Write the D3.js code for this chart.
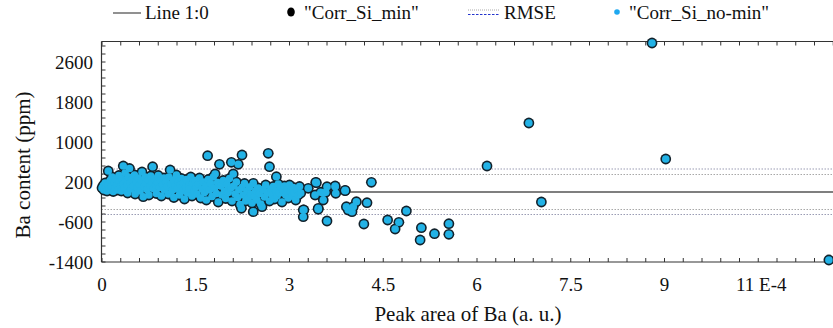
<!DOCTYPE html>
<html>
<head>
<meta charset="utf-8">
<script src="https://cdn.jsdelivr.net/npm/d3@7"></script>
<style>
  html, body { margin: 0; padding: 0; background: #fff; }
  svg { display: block; }
</style>
</head>
<body>
<div id="chart"></div>
<script>
// ---- data (peak area in units of 1E-4, Ba content in ppm) ----
const peakArea = [
  0.0,0.02,0.03,0.05,0.06,0.08,0.1,0.1,0.12,0.13,0.15,0.16,0.18,0.2,0.21,0.22,0.24,0.25,0.27,0.28,0.3,0.31,0.32,0.34,0.34,0.36,0.37,0.38,0.4,0.41,0.42,0.44,0.45,0.46,0.48,0.5,
  0.52,0.53,0.55,0.56,0.58,0.6,0.61,0.63,0.64,0.66,0.67,0.69,0.7,0.72,0.74,0.75,0.77,0.78,0.8,0.81,0.82,0.84,0.86,0.87,0.89,0.9,0.92,0.94,0.95,0.97,0.99,
  1.0,1.02,1.04,1.06,1.07,1.09,1.1,1.12,1.14,1.15,1.17,1.19,1.2,1.22,1.24,1.25,1.27,1.29,1.3,1.32,1.34,1.35,1.37,1.39,1.4,1.42,1.44,1.45,1.47,1.49,
  1.5,1.52,1.54,1.56,1.58,1.6,1.62,1.64,1.66,1.67,1.69,1.7,1.72,1.74,1.76,1.78,1.8,1.81,1.83,1.85,1.86,1.88,1.9,1.92,1.94,1.96,1.98,2.0,2.02,2.04,2.06,2.07,2.08,2.1,2.11,2.13,2.15,2.17,2.18,2.19,
  2.21,2.23,2.24,2.24,2.26,2.28,2.3,2.32,2.34,2.36,2.38,2.4,2.42,2.42,2.44,2.46,2.48,2.5,2.52,2.54,2.56,2.58,2.6,2.62,2.64,2.66,2.68,2.68,2.7,2.72,2.74,2.76,2.78,2.79,2.8,2.82,2.84,2.86,2.88,2.9,2.92,2.94,2.96,2.98,3.0,3.02,3.04,3.06,3.08,3.1,3.12,3.14,3.16,3.18,
  3.22,3.22,3.23,3.3,3.41,3.42,3.43,3.46,3.46,3.5,3.54,3.54,3.58,3.6,3.6,3.73,3.73,3.74,3.89,3.89,3.91,3.94,4.0,4.02,4.07,4.19,4.24,4.31,
  4.57,4.69,4.75,4.87,5.09,5.11,5.32,5.55,5.55,6.16,6.83,7.03,8.8,9.02,11.63
];
const baContent = [
  80,130,40,180,100,20,420,150,60,230,110,300,10,180,90,250,140,40,330,200,110,20,260,520,170,80,380,230,140,-20,300,470,190,60,250,120,
  340,-40,200,80,280,150,20,230,400,-94,110,300,170,50,240,-60,130,320,200,506,70,260,140,-30,190,330,90,230,-80,150,280,
  40,200,110,-40,300,440,160,30,240,-110,120,340,60,210,-60,150,270,20,180,-140,100,250,-20,140,60,300,-80,180,20,230,
  100,-40,160,280,-120,60,200,-10,110,-160,726,250,40,170,-90,300,80,360,-30,190,-200,554,120,-60,230,20,-130,150,-10,270,80,594,-180,360,120,-40,200,-110,554,40,
  -250,-326,740,90,-60,170,-180,20,-120,100,-40,-220,174,-394,-90,30,-160,80,-30,-240,-294,50,-100,140,-20,774,506,-180,60,-60,110,-140,20,306,-80,160,-20,90,-200,30,120,-60,60,-120,140,10,-80,90,-20,-160,40,-60,110,-20,
  -360,-494,-360,74,-60,194,186,-326,-346,-5,-26,-160,-5,106,-580,106,120,-26,26,34,-294,-360,-394,-294,-194,-640,-214,194,
  -560,-740,-606,-380,-960,-714,-834,-634,-846,520,1380,-200,2980,660,-1360
];
const xTickValues = [0, 1.5, 3, 4.5, 6, 7.5, 9, 10.5];
const xTickLabels = ["0", "1.5", "3", "4.5", "6", "7.5", "9", "11 E-4"];
const yTickValues = [-1400, -600, 200, 1000, 1800, 2600];
const rmseOuter = [460, -450];
const rmseInner = [350, -350];
const lineRef = [0];
const legendLabels = ["Line 1:0", "\"Corr_Si_min\"", "RMSE", "\"Corr_Si_no-min\""];

// ---- layout ----
const W = 833, H = 328;
const FONT = "'Liberation Serif', 'Times New Roman', 'DejaVu Serif', serif";
const svg = d3.select("#chart").append("svg").attr("width", W).attr("height", H)
  .attr("font-family", FONT);
svg.append("rect").attr("width", W).attr("height", H).attr("fill", "#fff");

const plotLeft = 101.5, plotTop = 41.5, plotBottom = 262, rightFull = 852;
const x = d3.scaleLinear().domain([0, 12]).range([102, rightFull]);
const y = d3.scaleLinear().domain([-1400, 3000]).range([plotBottom, 42]);

const points = peakArea.map((v, i) => ({ x: v, y: baContent[i] }));

// reference & RMSE lines
const g = svg.append("g");
g.append("g").selectAll("line").data(rmseOuter).join("line")
  .attr("x1", plotLeft).attr("x2", W).attr("y1", d => y(d)).attr("y2", d => y(d))
  .attr("stroke", "#9a9cb4").attr("stroke-width", 1.1).attr("stroke-dasharray", "1.5,1.5");
g.append("g").selectAll("line").data(rmseInner).join("line")
  .attr("x1", plotLeft).attr("x2", W).attr("y1", d => y(d)).attr("y2", d => y(d))
  .attr("stroke", "#a8a8a8").attr("stroke-width", 1.1).attr("stroke-dasharray", "1.5,1.5");
g.append("g").selectAll("line").data(lineRef).join("line")
  .attr("x1", plotLeft).attr("x2", W).attr("y1", d => y(d)).attr("y2", d => y(d))
  .attr("stroke", "#555").attr("stroke-width", 1.3);

// axes frame
const axisColor = "#333";
svg.append("line").attr("x1", plotLeft).attr("x2", W).attr("y1", plotTop).attr("y2", plotTop).attr("stroke", axisColor).attr("stroke-width", 1.2);
svg.append("line").attr("x1", plotLeft).attr("x2", W).attr("y1", plotBottom).attr("y2", plotBottom).attr("stroke", axisColor).attr("stroke-width", 1.2);
svg.append("line").attr("x1", plotLeft).attr("x2", plotLeft).attr("y1", plotTop).attr("y2", plotBottom).attr("stroke", axisColor).attr("stroke-width", 1.2);

// minor ticks (inward)
const xMinor = d3.range(0, 12.01, 0.3);
const yMinor = d3.range(-1400, 3001, 160);
svg.append("g").selectAll("line").data(xMinor).join("line")
  .attr("x1", d => x(d)).attr("x2", d => x(d)).attr("y1", plotBottom).attr("y2", plotBottom - 4)
  .attr("stroke", axisColor).attr("stroke-width", 1);
svg.append("g").selectAll("line").data(xMinor).join("line")
  .attr("x1", d => x(d)).attr("x2", d => x(d)).attr("y1", plotTop).attr("y2", plotTop + 4)
  .attr("stroke", axisColor).attr("stroke-width", 1);
svg.append("g").selectAll("line").data(yMinor).join("line")
  .attr("x1", plotLeft).attr("x2", plotLeft + 4).attr("y1", d => y(d)).attr("y2", d => y(d))
  .attr("stroke", axisColor).attr("stroke-width", 1);

// tick labels
svg.append("g").selectAll("text").data(xTickValues).join("text")
  .attr("x", d => x(d) + (d === 10.5 ? 3 : 0)).attr("y", 291)
  .attr("text-anchor", "middle").attr("font-size", 19).attr("fill", "#111")
  .text((d, i) => xTickLabels[i]);
svg.append("g").selectAll("text").data(yTickValues).join("text")
  .attr("x", 93).attr("y", d => y(d)).attr("dy", "0.35em")
  .attr("text-anchor", "end").attr("font-size", 19).attr("fill", "#111")
  .text(d => d);

// axis titles
svg.append("text").attr("x", 468).attr("y", 321).attr("text-anchor", "middle")
  .attr("font-size", 21).attr("fill", "#111").text("Peak area of Ba (a. u.)");
svg.append("text").attr("transform", "translate(30,165) rotate(-90)")
  .attr("text-anchor", "middle").attr("font-size", 21).attr("fill", "#111").text("Ba content (ppm)");

// points: Corr_Si_min (black, behind) and Corr_Si_no-min (blue)
svg.append("clipPath").attr("id", "plotclip").append("rect")
  .attr("x", plotLeft - 6).attr("y", plotTop - 8).attr("width", W).attr("height", plotBottom - plotTop + 14);
const pg = svg.append("g").attr("clip-path", "url(#plotclip)");
pg.append("g").selectAll("circle").data(points).join("circle")
  .attr("cx", d => x(d.x)).attr("cy", d => y(d.y)).attr("r", 5.4)
  .attr("fill", "#12222c");
pg.append("g").selectAll("circle").data(points).join("circle")
  .attr("cx", d => x(d.x)).attr("cy", d => y(d.y)).attr("r", 3.8)
  .attr("fill", "#22b2e6");

// legend
const lg = svg.append("g").attr("font-size", 19).attr("fill", "#111");
lg.append("line").attr("x1", 113).attr("x2", 141).attr("y1", 13).attr("y2", 13).attr("stroke", "#555").attr("stroke-width", 1.3);
lg.append("text").attr("x", 145).attr("y", 19).text(legendLabels[0]);
lg.append("ellipse").attr("cx", 291).attr("cy", 12).attr("rx", 3.8).attr("ry", 4.5).attr("fill", "#000");
lg.append("text").attr("x", 304).attr("y", 19).text(legendLabels[1]);
lg.append("line").attr("x1", 468).attr("x2", 499).attr("y1", 10).attr("y2", 10).attr("stroke", "#aaa").attr("stroke-width", 1).attr("stroke-dasharray", "1,1");
lg.append("line").attr("x1", 468).attr("x2", 499).attr("y1", 14.5).attr("y2", 14.5).attr("stroke", "#2233cc").attr("stroke-width", 1.2).attr("stroke-dasharray", "2.5,1.5");
lg.append("text").attr("x", 504).attr("y", 19).text(legendLabels[2]);
lg.append("circle").attr("cx", 617).attr("cy", 12).attr("r", 2.8).attr("fill", "#1ea8f0");
lg.append("text").attr("x", 629).attr("y", 19).text(legendLabels[3]);
</script>
</body>
</html>
